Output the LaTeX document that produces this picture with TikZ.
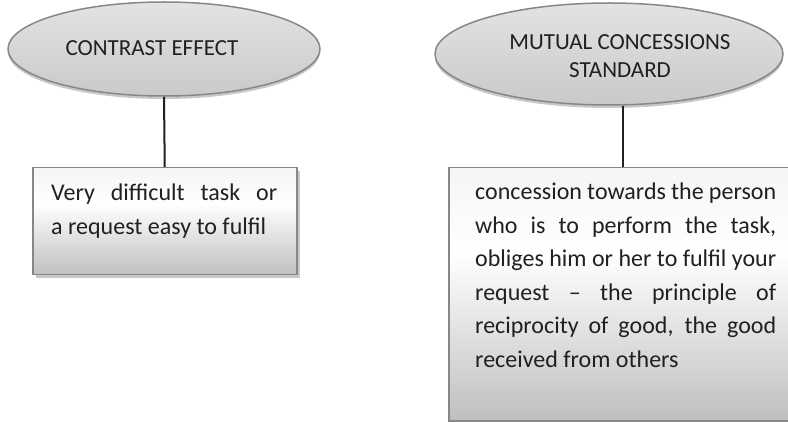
\documentclass[tikz,border=0pt]{standalone}
\usepackage{fontspec}
\setmainfont{Carlito}
\usetikzlibrary{shapes.geometric,shadows}
\pgfdeclareverticalshading{boxshade}{100bp}{color(0bp)=(gray!50); color(25bp)=(gray!50); color(58bp)=(white); color(75bp)=(gray!8); color(100bp)=(gray!8)}
\pgfdeclareverticalshading{ellshade}{100bp}{color(0bp)=(gray!42); color(25bp)=(gray!42); color(75bp)=(gray!22); color(100bp)=(gray!22)}
\definecolor{edgegray}{HTML}{878787}
\definecolor{shadowgray}{HTML}{C8C8C8}
\definecolor{linkcol}{HTML}{231F20}
\tikzset{
  ovalbox/.style={ellipse, draw=edgegray, line width=1.5pt, shade, shading=ellshade, inner sep=0pt,
    drop shadow={shadow xshift=0pt, shadow yshift=-3pt, fill=shadowgray, opacity=1}},
  rectbox/.style={rectangle, draw=edgegray, line width=1.5pt, shade, shading=boxshade, inner sep=0pt, anchor=north west,
    drop shadow={shadow xshift=3pt, shadow yshift=-3pt, fill=shadowgray, opacity=1}},
  headtext/.style={font=\fontsize{23}{28}\selectfont, align=center, inner sep=0pt, text=linkcol},
  bodytext/.style={font=\fontsize{24}{33.5}\selectfont, align=justify, inner sep=0pt, anchor=north west, text=linkcol},
  link/.style={draw=linkcol, line width=2pt}
}
\begin{document}
\begin{tikzpicture}[x=1pt,y=-1pt]
\useasboundingbox (0,0) rectangle (788,422);
\fill[white] (0,0) rectangle (788,422);
\node[ovalbox, minimum width=312pt, minimum height=94pt] (e1) at (164,49) {};
\node[headtext] (t1) at (152,48) {CONTRAST EFFECT};
\node[ovalbox, minimum width=348pt, minimum height=102pt] (e2) at (609,54) {};
\node[headtext] (t2) at (620,56) {MUTUAL CONCESSIONS\\STANDARD};
\node[rectbox, minimum width=264pt, minimum height=107pt] (b1) at (32,167) {};
\node[rectbox, minimum width=348pt, minimum height=253pt] (b2) at (448,167) {};
\node[bodytext, text width=226pt] (x1) at (51,184) {Very difficult task or\linebreak a request easy to fulfil};
\node[bodytext, text width=301pt] (x2) at (475,183) {concession towards the person\linebreak who is to perform the task,\linebreak obliges him or her to fulfil your\linebreak request – the principle of\linebreak reciprocity of good, the good\linebreak received from others};
\draw[link] (e1.south) -- (b1.north);
\draw[link] (b2.north |- e2.south) -- (b2.north);
\end{tikzpicture}
\end{document}
